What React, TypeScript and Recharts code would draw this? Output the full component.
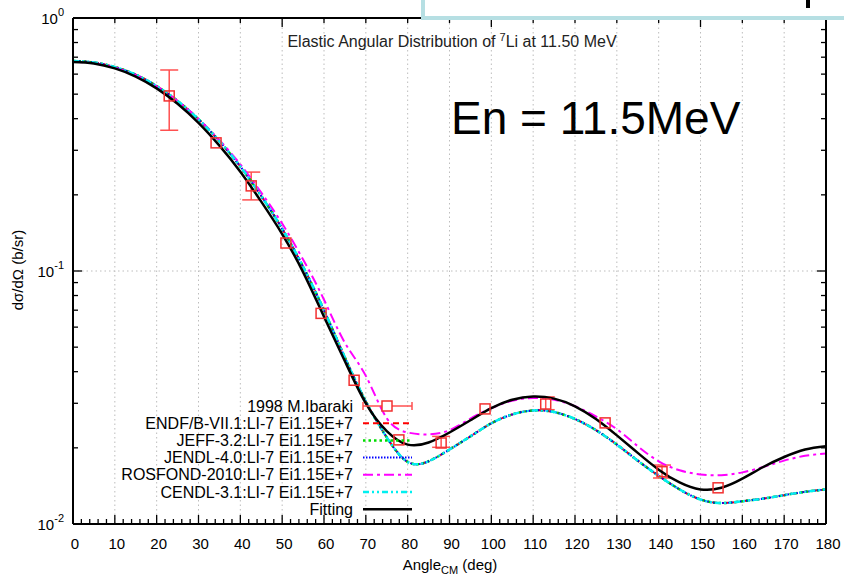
import React from 'react';
import { ComposedChart, Line, Scatter, ErrorBar, XAxis, YAxis, ReferenceLine } from 'recharts';

const FONT = '"Liberation Sans", Arial, Helvetica, sans-serif';

const angles = [0, 5, 10, 15, 20, 25, 30, 35, 40, 45, 50, 55, 60, 65, 70, 75, 80, 85, 90, 95, 100, 105, 110, 115, 120, 125, 130, 135, 140, 145, 150, 155, 160, 165, 170, 175, 180];

const fittingVals = [0.670, 0.661, 0.632, 0.587, 0.527, 0.458, 0.385, 0.313, 0.247, 0.188, 0.140, 0.099, 0.066, 0.0440, 0.0300, 0.0233, 0.0206, 0.0210, 0.0230, 0.0257, 0.0287, 0.0310, 0.0319, 0.0313, 0.0292, 0.0260, 0.0224, 0.0191, 0.0164, 0.0146, 0.0137, 0.0139, 0.0151, 0.0168, 0.0184, 0.0197, 0.0203];

const endfVals = [0.676, 0.667, 0.640, 0.597, 0.538, 0.470, 0.398, 0.326, 0.259, 0.198, 0.147, 0.104, 0.070, 0.0455, 0.0305, 0.0220, 0.0176, 0.0177, 0.0197, 0.0222, 0.0250, 0.0271, 0.0281, 0.0277, 0.0260, 0.0235, 0.0206, 0.0178, 0.0155, 0.0137, 0.0125, 0.0121, 0.0123, 0.0126, 0.0130, 0.0134, 0.0137];
const jeffVals = [0.676, 0.667, 0.640, 0.597, 0.538, 0.470, 0.398, 0.326, 0.259, 0.198, 0.147, 0.104, 0.070, 0.0455, 0.0305, 0.0220, 0.0176, 0.0177, 0.0197, 0.0222, 0.0250, 0.0271, 0.0281, 0.0277, 0.0260, 0.0235, 0.0206, 0.0178, 0.0155, 0.0137, 0.0125, 0.0121, 0.0123, 0.0126, 0.0130, 0.0134, 0.0137];
const jendlVals = [0.676, 0.667, 0.640, 0.597, 0.538, 0.470, 0.398, 0.326, 0.259, 0.198, 0.147, 0.104, 0.070, 0.0455, 0.0305, 0.0220, 0.0176, 0.0177, 0.0197, 0.0222, 0.0250, 0.0271, 0.0281, 0.0277, 0.0260, 0.0235, 0.0206, 0.0178, 0.0155, 0.0137, 0.0125, 0.0121, 0.0123, 0.0126, 0.0130, 0.0134, 0.0137];
const cendlVals = [0.676, 0.667, 0.640, 0.597, 0.538, 0.470, 0.398, 0.326, 0.259, 0.198, 0.147, 0.104, 0.070, 0.0455, 0.0305, 0.0220, 0.0176, 0.0177, 0.0197, 0.0222, 0.0250, 0.0271, 0.0281, 0.0277, 0.0260, 0.0235, 0.0206, 0.0178, 0.0155, 0.0137, 0.0125, 0.0121, 0.0123, 0.0126, 0.0130, 0.0134, 0.0137];
const rosfondVals = [0.672, 0.663, 0.637, 0.595, 0.537, 0.470, 0.399, 0.329, 0.264, 0.204, 0.154, 0.111, 0.077, 0.052, 0.0385, 0.0262, 0.0230, 0.0226, 0.0235, 0.0261, 0.0287, 0.0307, 0.0315, 0.0310, 0.0292, 0.0266, 0.0237, 0.0203, 0.0177, 0.0163, 0.0157, 0.0156, 0.0160, 0.0168, 0.0178, 0.0186, 0.0190];

const expAngles = [23, 34.2, 42.6, 50.9, 59.3, 67.2, 77.9, 88, 98.5, 113, 127.2, 140.8, 154.2];
const expValues = [0.492, 0.321, 0.217, 0.129, 0.068, 0.037, 0.0215, 0.0209, 0.0285, 0.0298, 0.0251, 0.0161, 0.0139];
const expErrLow = [0.132, 0, 0.026, 0, 0, 0, 0, 0.0008, 0, 0.0015, 0, 0.0009, 0];
const expErrHigh = [0.131, 0, 0.029, 0, 0, 0, 0, 0.0013, 0, 0.002, 0, 0.001, 0];

const xMajorTicks = [0, 10, 20, 30, 40, 50, 60, 70, 80, 90, 100, 110, 120, 130, 140, 150, 160, 170, 180];
const xGridLines = [10, 20, 30, 40, 50, 60, 70, 80, 90, 100, 110, 120, 130, 140, 150, 160, 170];
const xAllTicks = Array.from({ length: 91 }, (_, i) => i * 2);
const yTicks = [0.01, 0.02, 0.03, 0.04, 0.05, 0.06, 0.07, 0.08, 0.09, 0.1, 0.2, 0.3, 0.4, 0.5, 0.6, 0.7, 0.8, 0.9, 1];

const curveData = angles.map((a, i) => ({
  angle: a,
  endf: endfVals[i],
  jeff: jeffVals[i],
  jendl: jendlVals[i],
  rosfond: rosfondVals[i],
  cendl: cendlVals[i],
  fit: fittingVals[i],
}));

const expData = expAngles.map((a, i) => ({
  angle: a,
  value: expValues[i],
  err: expErrLow[i] > 0 || expErrHigh[i] > 0 ? [expErrLow[i], expErrHigh[i]] : null,
}));

const isMajorX = (v: number) => xMajorTicks.indexOf(v) >= 0;
const isMajorY = (v: number) => Math.abs(Math.log10(v) - Math.round(Math.log10(v))) < 1e-6;

const BottomTick = (p: any) => {
  const { x, y, payload } = p;
  const v = payload.value;
  const major = isMajorX(v);
  return (
    <g>
      <line x1={x} x2={x} y1={y} y2={y - (major ? 9 : 5)} stroke="#000" strokeWidth={1.3} />
      {major && (
        <text x={x + 2} y={y + 25} textAnchor="middle" fontSize={15} fill="#000" fontFamily={FONT}>
          {v}
        </text>
      )}
    </g>
  );
};

const TopTick = (p: any) => {
  const { x, y, payload } = p;
  const major = isMajorX(payload.value);
  return <line x1={x} x2={x} y1={y} y2={y + (major ? 9 : 5)} stroke="#000" strokeWidth={1.3} />;
};

const LeftTick = (p: any) => {
  const { x, y, payload } = p;
  const v = payload.value;
  const major = isMajorY(v);
  const exp = Math.round(Math.log10(v));
  return (
    <g>
      <line x1={x} x2={x + (major ? 9 : 5)} y1={y} y2={y} stroke="#000" strokeWidth={1.3} />
      {major && (
        <text x={x - 9} y={y + 6} textAnchor="end" fontSize={15} fill="#000" fontFamily={FONT}>
          10
          <tspan dy={-8} fontSize={11}>
            {exp === 0 ? '0' : String(exp)}
          </tspan>
        </text>
      )}
    </g>
  );
};

const RightTick = (p: any) => {
  const { x, y, payload } = p;
  const major = isMajorY(payload.value);
  return <line x1={x} x2={x - (major ? 9 : 5)} y1={y} y2={y} stroke="#000" strokeWidth={1.3} />;
};

const SquareShape = (p: any) => {
  const { cx, cy } = p;
  return <rect x={cx - 5} y={cy - 5} width={10} height={10} fill="none" stroke="#f23030" strokeWidth={1.5} />;
};

const legendRows = [
  { label: '1998 M.Ibaraki', kind: 'exp' },
  { label: 'ENDF/B-VII.1:LI-7 Ei1.15E+7', kind: 'line', color: '#ff0000', dash: '6 4', w: 2 },
  { label: 'JEFF-3.2:LI-7 Ei1.15E+7', kind: 'line', color: '#00dd00', dash: '2.5 3', w: 2.5 },
  { label: 'JENDL-4.0:LI-7 Ei1.15E+7', kind: 'line', color: '#0000ff', dash: '1.5 1.5', w: 2 },
  { label: 'ROSFOND-2010:LI-7 Ei1.15E+7', kind: 'line', color: '#ff00ff', dash: '10 4 3 4', w: 2 },
  { label: 'CENDL-3.1:LI-7 Ei1.15E+7', kind: 'line', color: '#00f0f0', dash: '6 3 2 3 2 3', w: 2.5 },
  { label: 'Fitting', kind: 'line', color: '#000000', dash: undefined, w: 2.5 },
];

export default function App() {
  return (
    <div style={{ position: 'absolute', left: 0, top: 0, width: 844, height: 577, background: '#fff' }}>
      <ComposedChart
        width={844}
        height={577}
        data={curveData}
        margin={{ top: 0, right: 0, bottom: 0, left: 0 }}
      >
        <XAxis
          dataKey="angle"
          type="number"
          domain={[0, 180]}
          ticks={xAllTicks}
          interval={0}
          height={53}
          tickSize={0}
          tickMargin={0}
          tickLine={false}
          tick={<BottomTick />}
          axisLine={{ stroke: '#000', strokeWidth: 2 }}
          allowDataOverflow
        />
        <XAxis
          xAxisId="top"
          orientation="top"
          type="number"
          domain={[0, 180]}
          ticks={xAllTicks}
          interval={0}
          height={18}
          tickSize={0}
          tickMargin={0}
          tickLine={false}
          tick={<TopTick />}
          axisLine={{ stroke: '#000', strokeWidth: 2 }}
          allowDataOverflow
        />
        <YAxis
          type="number"
          scale="log"
          domain={[0.01, 1]}
          ticks={yTicks}
          interval={0}
          width={73}
          tickSize={0}
          tickMargin={0}
          tickLine={false}
          tick={<LeftTick />}
          axisLine={{ stroke: '#000', strokeWidth: 2 }}
          allowDataOverflow
        />
        <YAxis
          yAxisId="right"
          orientation="right"
          type="number"
          scale="log"
          domain={[0.01, 1]}
          ticks={yTicks}
          interval={0}
          width={18}
          tickSize={0}
          tickMargin={0}
          tickLine={false}
          tick={<RightTick />}
          axisLine={{ stroke: '#000', strokeWidth: 2 }}
          allowDataOverflow
        />
        {xGridLines.map((g) => (
          <ReferenceLine key={'gx' + g} x={g} stroke="#bdbdbd" strokeDasharray="1.5 3" strokeWidth={1} />
        ))}
        <ReferenceLine y={0.1} stroke="#bdbdbd" strokeDasharray="1.5 3" strokeWidth={1} />
        <Scatter data={expData} dataKey="value" shape={<SquareShape />} isAnimationActive={false}>
          <ErrorBar dataKey="err" direction="y" width={9} stroke="#ff5050" strokeWidth={1.5} />
        </Scatter>
        <Line type="natural" dataKey="endf" stroke="#ff0000" strokeWidth={2} strokeDasharray="6 4" dot={false} isAnimationActive={false} />
        <Line type="natural" dataKey="jeff" stroke="#00dd00" strokeWidth={2.5} strokeDasharray="2.5 3" dot={false} isAnimationActive={false} />
        <Line type="natural" dataKey="jendl" stroke="#0000ff" strokeWidth={2} strokeDasharray="1.5 1.5" dot={false} isAnimationActive={false} />
        <Line type="natural" dataKey="rosfond" stroke="#ff00ff" strokeWidth={2} strokeDasharray="10 4 3 4" dot={false} isAnimationActive={false} />
        <Line type="natural" dataKey="cendl" stroke="#00f0f0" strokeWidth={2.5} strokeDasharray="6 3 2 3 2 3" dot={false} isAnimationActive={false} />
        <Line type="natural" dataKey="fit" stroke="#000000" strokeWidth={2.5} dot={false} isAnimationActive={false} />
      </ComposedChart>
      <svg
        width={844}
        height={577}
        style={{ position: 'absolute', left: 0, top: 0, pointerEvents: 'none' }}
        fontFamily={FONT}
      >
        <rect x={423} y={-10} width={440} height={28} fill="#fff" stroke="#b6dfe3" strokeWidth={4} />
        <rect x={806} y={0} width={4} height={8} fill="#000" />
        <text x={452} y={47} textAnchor="middle" fontSize={16} fill="#222">
          Elastic Angular Distribution of
          <tspan dx={4} dy={-6} fontSize={11}>7</tspan>
          <tspan dy={6}>Li at 11.50 MeV</tspan>
        </text>
        <text x={451} y={134} fontSize={46} fill="#000">
          En = 11.5MeV
        </text>
        <text x={23} y={270} fontSize={15} fill="#000" textAnchor="middle" transform="rotate(-90 23 270)">
          dσ/dΩ (b/sr)
        </text>
        <text x={450} y={570} fontSize={15} fill="#000" textAnchor="middle">
          Angle
          <tspan dy={4} fontSize={11}>CM</tspan>
          <tspan dy={-4}> (deg)</tspan>
        </text>
        {legendRows.map((r, i) => {
          const cy = 406 + i * 17.2;
          return (
            <g key={r.label}>
              <text x={353} y={cy + 5.5} textAnchor="end" fontSize={16} fill="#000">
                {r.label}
              </text>
              {r.kind === 'exp' ? (
                <g stroke="#ff5050" strokeWidth={1.5} fill="none">
                  <line x1={363} x2={412} y1={cy} y2={cy} />
                  <line x1={363} x2={363} y1={cy - 4} y2={cy + 4} />
                  <line x1={412} x2={412} y1={cy - 4} y2={cy + 4} />
                  <rect x={382} y={cy - 5} width={10} height={10} stroke="#f23030" fill="#fff" />
                </g>
              ) : (
                <line x1={363} x2={412} y1={cy} y2={cy} stroke={r.color} strokeWidth={r.w} strokeDasharray={r.dash} />
              )}
            </g>
          );
        })}
      </svg>
    </div>
  );
}
